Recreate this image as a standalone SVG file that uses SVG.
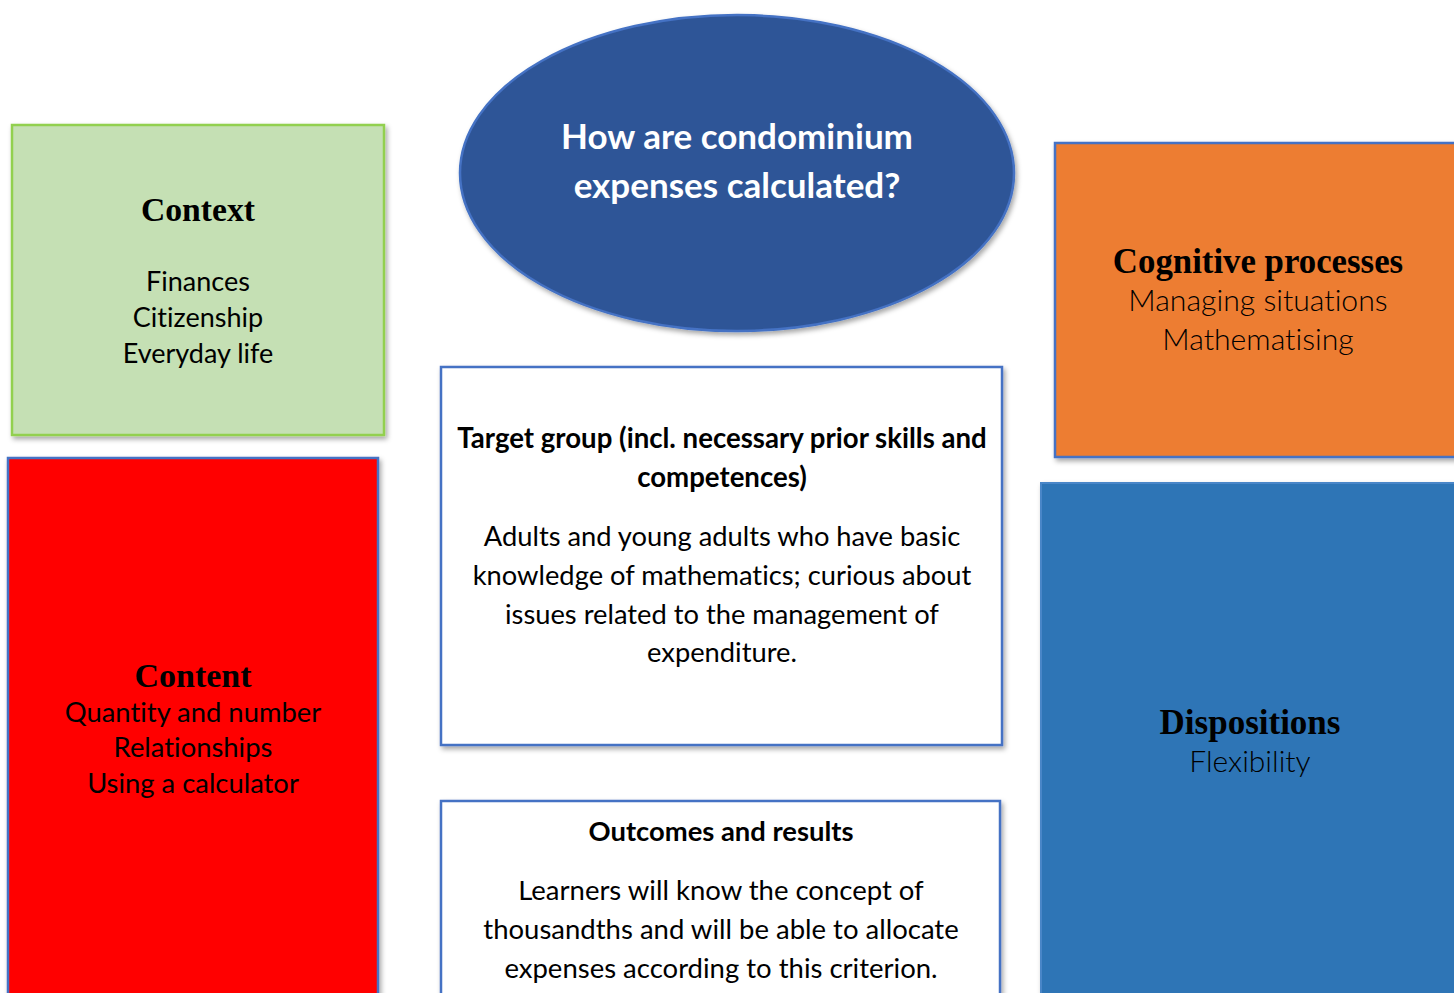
<svg xmlns="http://www.w3.org/2000/svg" width="1454" height="993" viewBox="0 0 1454 993">
<defs>
<filter id="sh" x="-5%" y="-5%" width="115%" height="115%">
<feDropShadow dx="2" dy="3" stdDeviation="2.5" flood-color="#000" flood-opacity="0.35"/>
</filter>
</defs>
<style>
text{font-variant-ligatures:none;font-feature-settings:"liga" 0,"clig" 0}
.h{font-family:"Liberation Serif","DejaVu Serif",serif;font-weight:bold;text-anchor:middle;fill:#000}
.b{font-family:Lato,"Open Sans",sans-serif;text-anchor:middle;fill:#000}
.bb{font-family:Lato,"Open Sans",sans-serif;font-weight:bold;text-anchor:middle;fill:#000}
.w{fill:#fff}
</style>
<rect width="1454" height="993" fill="#fff"/>
<g id="connectors"></g>
<g id="context">
<rect x="12" y="125" width="372" height="310" fill="#C5E0B4" stroke="#92D050" stroke-width="2.5" filter="url(#sh)"/>
<text class="h" x="198" y="221" font-size="33.7">Context</text>
<text class="b" x="198" y="291" font-size="27">Finances</text>
<text class="b" x="198" y="327" font-size="27">Citizenship</text>
<text class="b" x="198" y="363" font-size="27">Everyday life</text>
</g>
<g id="content">
<rect x="8" y="458" width="370" height="545" fill="#FF0000" stroke="#4472C4" stroke-width="2.5" filter="url(#sh)"/>
<text class="h" x="193" y="687" font-size="34">Content</text>
<text class="b" x="193" y="722" font-size="27.4">Quantity and number</text>
<text class="b" x="193" y="757" font-size="27.4">Relationships</text>
<text class="b" x="193" y="793" font-size="27.4">Using a calculator</text>
</g>
<g id="question">
<ellipse cx="737" cy="173" rx="277" ry="158" fill="#2F5597" stroke="#4472C4" stroke-width="2.5" filter="url(#sh)"/>
<text class="bb w" x="737" y="149" font-size="35">How are condominium</text>
<text class="bb w" x="737" y="198" font-size="35">expenses calculated?</text>
</g>
<g id="cognitive">
<rect x="1055" y="143" width="410" height="314" fill="#ED7D31" stroke="#4472C4" stroke-width="2.5" filter="url(#sh)"/>
<text class="h" x="1258" y="273" font-size="34.8">Cognitive processes</text>
<text class="b" x="1258" y="311" font-size="30.2" font-weight="300">Managing situations</text>
<text class="b" x="1258" y="350" font-size="30.2" font-weight="300">Mathematising</text>
</g>
<g id="dispositions">
<rect x="1041" y="483" width="425" height="520" fill="#2E75B6" stroke="#4A86C8" stroke-width="2" filter="url(#sh)"/>
<text class="h" x="1250" y="734" font-size="35">Dispositions</text>
<text class="b" x="1250" y="772" font-size="30" font-weight="300">Flexibility</text>
</g>
<g id="target">
<rect x="441" y="367" width="561" height="378" fill="#fff" stroke="#4472C4" stroke-width="2.5" filter="url(#sh)"/>
<text class="bb" x="722" y="448" font-size="27.6">Target group (incl. necessary prior skills and</text>
<text class="bb" x="722" y="487" font-size="27.6">competences)</text>
<text class="b" x="722" y="546" font-size="27.3">Adults and young adults who have basic</text>
<text class="b" x="722" y="585" font-size="27.3">knowledge of mathematics; curious about</text>
<text class="b" x="722" y="624" font-size="27.3">issues related to the management of</text>
<text class="b" x="722" y="662" font-size="27.3">expenditure.</text>
</g>
<g id="outcomes">
<rect x="441" y="801" width="559" height="210" fill="#fff" stroke="#4472C4" stroke-width="2.5" filter="url(#sh)"/>
<text class="bb" x="721" y="841" font-size="27.4">Outcomes and results</text>
<text class="b" x="721" y="900" font-size="27.5">Learners will know the concept of</text>
<text class="b" x="721" y="939" font-size="27.5">thousandths and will be able to allocate</text>
<text class="b" x="721" y="978" font-size="27.5">expenses according to this criterion.</text>
</g>
</svg>
